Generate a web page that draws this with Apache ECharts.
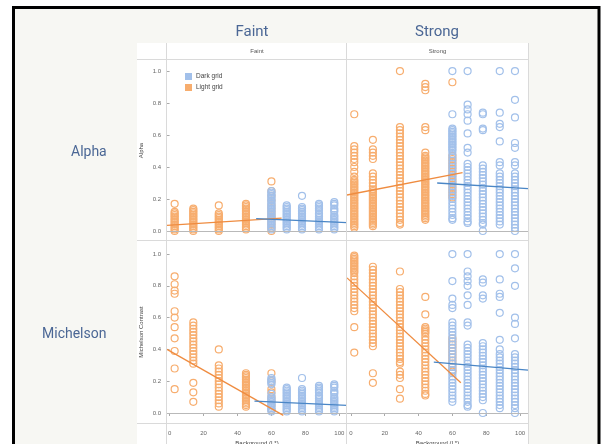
<!DOCTYPE html>
<html>
<head>
<meta charset="utf-8">
<script src="https://cdn.jsdelivr.net/npm/echarts@6/dist/echarts.min.js"></script>
<style>
  html, body { margin: 0; padding: 0; background: #fff; }
  #main { width: 602px; height: 444px; }
</style>
</head>
<body>
<div id="main"></div>
<script>
// background L* of each column
const lightX = [3, 14, 29, 45, 60];
const darkX = [60, 69, 78, 88, 97];
const lightXStrong = [2, 13, 29, 44, 60];

const colTitles = ['Faint', 'Strong'];
const rowTitles = ['Alpha', 'Michelson'];
const yTicks = [0, 0.2, 0.4, 0.6, 0.8, 1.0];
const xTicks = [0, 20, 40, 60, 80, 100];

// Alpha, faint
const alphaFaintLight = [
  [0.17, 0.12, 0.11, 0.10, 0.09, 0.08, 0.07, 0.06, 0.05, 0.04, 0.03, 0.02, 0.01, 0.0],
  [0.14, 0.13, 0.12, 0.11, 0.10, 0.09, 0.08, 0.07, 0.06, 0.05, 0.04, 0.03, 0.02, 0.01, 0.0],
  [0.16, 0.11, 0.10, 0.09, 0.08, 0.07, 0.06, 0.05, 0.04, 0.03, 0.02, 0.01, 0.0],
  [0.17, 0.16, 0.15, 0.14, 0.13, 0.12, 0.11, 0.10, 0.09, 0.08, 0.07, 0.06, 0.05, 0.04, 0.03, 0.02, 0.01],
  [0.31, 0.25, 0.22, 0.19, 0.16, 0.14, 0.12, 0.10, 0.08, 0.06, 0.04, 0.02, 0.0]
];
const alphaFaintDark = [
  [0.25, 0.24, 0.23, 0.22, 0.21, 0.20, 0.19, 0.18, 0.17, 0.16, 0.15, 0.14, 0.13, 0.12, 0.11, 0.10, 0.09, 0.08, 0.07, 0.06, 0.05, 0.04, 0.03, 0.02, 0.01],
  [0.16, 0.15, 0.14, 0.13, 0.12, 0.11, 0.10, 0.09, 0.08, 0.07, 0.06, 0.05, 0.04, 0.03, 0.02, 0.01],
  [0.22, 0.15, 0.14, 0.13, 0.12, 0.11, 0.10, 0.09, 0.08, 0.07, 0.06, 0.05, 0.04, 0.03, 0.02, 0.01],
  [0.17, 0.16, 0.15, 0.14, 0.13, 0.11, 0.10, 0.09, 0.08, 0.07, 0.06, 0.05, 0.04, 0.03, 0.02, 0.01],
  [0.18, 0.17, 0.16, 0.14, 0.13, 0.12, 0.10, 0.09, 0.08, 0.07, 0.06, 0.05, 0.04, 0.03, 0.02, 0.01]
];

// Alpha, strong
const alphaStrongLight = [
  [0.73, 0.53, 0.51, 0.49, 0.47, 0.45, 0.43, 0.40, 0.37, 0.34, 0.32, 0.31, 0.30, 0.29, 0.28, 0.27, 0.26, 0.25, 0.24, 0.23, 0.22, 0.21, 0.20, 0.19, 0.18, 0.17, 0.16, 0.15, 0.14, 0.13, 0.12, 0.11, 0.10, 0.09, 0.08, 0.07, 0.06, 0.05, 0.04, 0.03, 0.02],
  [0.57, 0.51, 0.49, 0.47, 0.45, 0.36, 0.34, 0.32, 0.30, 0.28, 0.26, 0.25, 0.24, 0.23, 0.22, 0.21, 0.20, 0.19, 0.18, 0.17, 0.16, 0.15, 0.14, 0.13, 0.12, 0.11, 0.10, 0.09, 0.08, 0.07, 0.06, 0.05, 0.04, 0.03],
  [1.0, 0.65, 0.63, 0.61, 0.59, 0.57, 0.55, 0.53, 0.51, 0.49, 0.47, 0.45, 0.43, 0.41, 0.39, 0.37, 0.35, 0.33, 0.31, 0.29, 0.27, 0.25, 0.23, 0.21, 0.19, 0.17, 0.15, 0.13, 0.11, 0.09, 0.07, 0.05, 0.04],
  [0.92, 0.90, 0.88, 0.65, 0.63, 0.49, 0.47, 0.46, 0.45, 0.44, 0.43, 0.42, 0.41, 0.40, 0.39, 0.38, 0.37, 0.36, 0.35, 0.34, 0.33, 0.32, 0.31, 0.30, 0.29, 0.28, 0.27, 0.26, 0.25, 0.24, 0.23, 0.22, 0.21, 0.20, 0.19, 0.18, 0.17, 0.16, 0.15, 0.14, 0.13, 0.12, 0.11, 0.10, 0.09, 0.08, 0.07],
  [0.93, 0.47, 0.45, 0.43, 0.41, 0.39, 0.37, 0.35, 0.33, 0.31, 0.29, 0.27, 0.25, 0.23, 0.21]
];
const alphaStrongDark = [
  [1.0, 0.73, 0.64, 0.63, 0.62, 0.61, 0.60, 0.59, 0.58, 0.57, 0.56, 0.55, 0.54, 0.53, 0.52, 0.51, 0.50, 0.48, 0.46, 0.44, 0.42, 0.40, 0.38, 0.36, 0.34, 0.32, 0.30, 0.28, 0.26, 0.24, 0.22, 0.20, 0.18, 0.16, 0.14, 0.12, 0.10, 0.08, 0.07],
  [1.0, 0.79, 0.76, 0.73, 0.69, 0.61, 0.52, 0.49, 0.42, 0.40, 0.38, 0.36, 0.34, 0.32, 0.30, 0.28, 0.26, 0.24, 0.22, 0.20, 0.18, 0.16, 0.14, 0.12, 0.10, 0.08, 0.06, 0.05],
  [0.74, 0.73, 0.64, 0.63, 0.41, 0.39, 0.37, 0.35, 0.33, 0.31, 0.29, 0.27, 0.25, 0.23, 0.21, 0.19, 0.17, 0.15, 0.13, 0.11, 0.09, 0.07, 0.05, 0.04, 0.0],
  [1.0, 0.74, 0.67, 0.65, 0.56, 0.43, 0.41, 0.36, 0.34, 0.32, 0.30, 0.28, 0.26, 0.24, 0.22, 0.20, 0.18, 0.16, 0.14, 0.12, 0.10, 0.08, 0.06, 0.04],
  [1.0, 0.82, 0.71, 0.55, 0.52, 0.43, 0.41, 0.36, 0.34, 0.32, 0.30, 0.28, 0.26, 0.24, 0.22, 0.20, 0.18, 0.16, 0.14, 0.12, 0.10, 0.08, 0.06, 0.04, 0.02, 0.0]
];

// Michelson contrast, faint
const michFaintLight = [
  [0.86, 0.81, 0.77, 0.75, 0.64, 0.60, 0.54, 0.47, 0.39, 0.28, 0.15],
  [0.57, 0.55, 0.53, 0.51, 0.49, 0.47, 0.45, 0.43, 0.41, 0.39, 0.37, 0.35, 0.33, 0.31, 0.19, 0.13, 0.07],
  [0.40, 0.30, 0.28, 0.26, 0.24, 0.22, 0.20, 0.18, 0.16, 0.14, 0.12, 0.10, 0.08, 0.06, 0.04],
  [0.25, 0.24, 0.23, 0.22, 0.21, 0.20, 0.19, 0.18, 0.17, 0.16, 0.15, 0.14, 0.13, 0.12, 0.11, 0.10, 0.09, 0.08, 0.07, 0.06, 0.05, 0.04],
  [0.25, 0.20, 0.15, 0.13, 0.10, 0.08, 0.05, 0.02]
];
const michFaintDark = [
  [0.22, 0.21, 0.20, 0.19, 0.18, 0.12, 0.10, 0.09, 0.08, 0.07, 0.06, 0.05, 0.04, 0.03, 0.02, 0.01],
  [0.16, 0.15, 0.14, 0.13, 0.12, 0.11, 0.10, 0.09, 0.08, 0.07, 0.06, 0.05, 0.04, 0.03, 0.02, 0.01],
  [0.22, 0.15, 0.14, 0.13, 0.12, 0.11, 0.10, 0.09, 0.08, 0.07, 0.06, 0.05, 0.04, 0.03, 0.02, 0.01],
  [0.17, 0.16, 0.15, 0.14, 0.13, 0.11, 0.10, 0.09, 0.08, 0.07, 0.06, 0.05, 0.04, 0.03, 0.02, 0.01],
  [0.18, 0.17, 0.16, 0.14, 0.13, 0.12, 0.10, 0.09, 0.08, 0.07, 0.06, 0.05, 0.04, 0.03, 0.02, 0.01]
];

// Michelson contrast, strong
const michStrongLight = [
  [0.99, 0.98, 0.97, 0.96, 0.95, 0.94, 0.93, 0.92, 0.91, 0.90, 0.89, 0.88, 0.86, 0.84, 0.82, 0.80, 0.78, 0.76, 0.74, 0.72, 0.70, 0.68, 0.66, 0.64, 0.54, 0.38],
  [0.92, 0.90, 0.88, 0.86, 0.84, 0.82, 0.80, 0.78, 0.76, 0.74, 0.72, 0.70, 0.68, 0.66, 0.64, 0.62, 0.60, 0.58, 0.56, 0.54, 0.52, 0.50, 0.48, 0.46, 0.44, 0.42, 0.25, 0.19],
  [0.89, 0.78, 0.76, 0.74, 0.72, 0.70, 0.68, 0.66, 0.64, 0.62, 0.60, 0.58, 0.56, 0.54, 0.52, 0.50, 0.48, 0.46, 0.44, 0.42, 0.40, 0.38, 0.36, 0.34, 0.32, 0.31, 0.26, 0.24, 0.22, 0.15, 0.09],
  [0.73, 0.62, 0.54, 0.53, 0.52, 0.51, 0.50, 0.48, 0.46, 0.44, 0.42, 0.40, 0.38, 0.36, 0.34, 0.32, 0.30, 0.28, 0.26, 0.24, 0.22, 0.20, 0.18, 0.16, 0.14, 0.12, 0.11],
  [0.47, 0.45, 0.43, 0.41, 0.39, 0.37, 0.35, 0.33, 0.31, 0.29, 0.27, 0.26]
];
const michStrongDark = [
  [1.0, 0.83, 0.72, 0.68, 0.66, 0.57, 0.55, 0.53, 0.51, 0.49, 0.47, 0.45, 0.43, 0.41, 0.39, 0.37, 0.35, 0.33, 0.31, 0.29, 0.27, 0.25, 0.23, 0.21, 0.19, 0.17, 0.15, 0.13, 0.11, 0.09, 0.07],
  [1.0, 0.89, 0.86, 0.83, 0.80, 0.74, 0.68, 0.57, 0.55, 0.43, 0.41, 0.39, 0.37, 0.35, 0.33, 0.31, 0.29, 0.27, 0.25, 0.23, 0.21, 0.19, 0.17, 0.15, 0.13, 0.11, 0.09, 0.07, 0.05, 0.04],
  [0.84, 0.82, 0.74, 0.72, 0.44, 0.42, 0.40, 0.38, 0.36, 0.34, 0.32, 0.30, 0.28, 0.26, 0.24, 0.22, 0.20, 0.18, 0.16, 0.14, 0.12, 0.10, 0.08, 0.0],
  [1.0, 0.84, 0.75, 0.73, 0.63, 0.46, 0.40, 0.37, 0.35, 0.33, 0.31, 0.29, 0.27, 0.25, 0.23, 0.21, 0.19, 0.17, 0.15, 0.13, 0.11, 0.09, 0.07, 0.05, 0.03],
  [1.0, 0.91, 0.80, 0.60, 0.56, 0.47, 0.37, 0.35, 0.33, 0.31, 0.29, 0.27, 0.25, 0.23, 0.21, 0.19, 0.17, 0.15, 0.13, 0.11, 0.09, 0.07, 0.05, 0.03, 0.0]
];

// fitted lines, [L*, value] end points
const alphaFaintLightFit = [[-1.5, 0.035], [66, 0.08]];
const alphaFaintDarkFit = [[51, 0.078], [104.5, 0.052]];
const alphaStrongLightFit = [[-2.3, 0.225], [66, 0.365]];
const alphaStrongDarkFit = [[51, 0.30], [104.7, 0.265]];
const michFaintLightFit = [[-1.5, 0.40], [67, -0.015]];
const michFaintDarkFit = [[50, 0.074], [104.5, 0.048]];
const michStrongLightFit = [[-2.3, 0.85], [65, 0.19]];
const michStrongDarkFit = [[49, 0.32], [104.7, 0.27]];

const ORANGE = '#f7ad6e';
const BLUE = '#a2c0ea';
const ORANGE_LINE = '#ef8c40';
const BLUE_LINE = '#4a86c6';
const GRIDLINE = '#dadada';
const FONT = 'Liberation Sans';

function toPoints(xs, cols) {
  const out = [];
  cols.forEach((col, i) => col.forEach((v) => out.push([xs[i], v])));
  return out;
}

// panel boxes in pixels
const panelLeft = [167, 347];
const panelWidth = [180, 181];
const panelTop = [60, 241];
const panelHeight = [181, 182];
const xRange = [[-1.5, 104.5], [-2.3, 104.7]];
const yRange = [[-0.0625, 1.069], [-0.063, 1.082]];

const panels = [
  {row: 0, col: 0, light: toPoints(lightX, alphaFaintLight), dark: toPoints(darkX, alphaFaintDark), lf: alphaFaintLightFit, df: alphaFaintDarkFit},
  {row: 0, col: 1, light: toPoints(lightXStrong, alphaStrongLight), dark: toPoints(darkX, alphaStrongDark), lf: alphaStrongLightFit, df: alphaStrongDarkFit},
  {row: 1, col: 0, light: toPoints(lightX, michFaintLight), dark: toPoints(darkX, michFaintDark), lf: michFaintLightFit, df: michFaintDarkFit},
  {row: 1, col: 1, light: toPoints(lightXStrong, michStrongLight), dark: toPoints(darkX, michStrongDark), lf: michStrongLightFit, df: michStrongDarkFit}
];

const grids = [];
const xAxes = [];
const yAxes = [];
const series = [];

panels.forEach((p, i) => {
  grids.push({
    left: panelLeft[p.col], top: panelTop[p.row],
    width: panelWidth[p.col], height: panelHeight[p.row],
    show: false, containLabel: false, outerBoundsMode: 'none'
  });
  const bottomRow = p.row === 1;
  xAxes.push({
    type: 'value', gridIndex: i,
    min: xRange[p.col][0], max: xRange[p.col][1],
    name: bottomRow ? 'Background (L*)' : '',
    nameLocation: 'middle', nameGap: 17,
    nameTextStyle: {fontSize: 6, color: '#444', fontFamily: FONT},
    axisLine: {show: false},
    axisTick: {show: bottomRow, length: 3, customValues: xTicks, lineStyle: {color: '#aaa'}},
    axisLabel: {show: bottomRow, customValues: xTicks, fontSize: 6, color: '#666', margin: 7, fontFamily: FONT},
    splitLine: {show: false}
  });
  const leftCol = p.col === 0;
  yAxes.push({
    type: 'value', gridIndex: i,
    min: yRange[p.row][0], max: yRange[p.row][1],
    name: leftCol ? (p.row === 0 ? 'Alpha' : 'Michelson Contrast') : '',
    nameLocation: 'middle', nameGap: 23, nameRotate: 90,
    nameTextStyle: {fontSize: 6, color: '#444', fontFamily: FONT},
    axisLine: {show: false},
    axisTick: {show: leftCol, length: 3, customValues: yTicks, lineStyle: {color: '#aaa'}},
    axisLabel: {show: leftCol, customValues: yTicks, fontSize: 6, color: '#666', margin: 6,
      fontFamily: FONT, formatter: (v) => v.toFixed(1)},
    splitLine: {show: false}
  });
  series.push({
    type: 'scatter', name: 'Light grid', xAxisIndex: i, yAxisIndex: i,
    data: p.light, symbol: 'circle', symbolSize: 7,
    itemStyle: {color: 'rgba(255,255,255,0)', borderColor: ORANGE, borderWidth: 1.2, opacity: 1},
    markLine: {
      silent: true, symbol: 'none', label: {show: false},
      lineStyle: {color: '#b9b9b9', type: 'solid', width: 1},
      data: [{yAxis: 0}]
    }
  });
  series.push({
    type: 'scatter', name: 'Dark grid', xAxisIndex: i, yAxisIndex: i,
    data: p.dark, symbol: 'circle', symbolSize: 7,
    itemStyle: {color: 'rgba(255,255,255,0)', borderColor: BLUE, borderWidth: 1.2, opacity: 1}
  });
  series.push({
    type: 'line', name: 'Light fit', xAxisIndex: i, yAxisIndex: i,
    data: p.lf, symbol: 'none', clip: false,
    lineStyle: {color: ORANGE_LINE, width: 1.3}, z: 5
  });
  series.push({
    type: 'line', name: 'Dark fit', xAxisIndex: i, yAxisIndex: i,
    data: p.df, symbol: 'none', clip: false,
    lineStyle: {color: BLUE_LINE, width: 1.3}, z: 5
  });
});

function hline(y, x1, x2) {
  return {type: 'line', z: 100, silent: true, shape: {x1: x1, y1: y, x2: x2, y2: y}, style: {stroke: GRIDLINE, lineWidth: 1}};
}
function vline(x, y1, y2) {
  return {type: 'line', z: 100, silent: true, shape: {x1: x, y1: y1, x2: x, y2: y2}, style: {stroke: GRIDLINE, lineWidth: 1}};
}
function label(text, x, y, size, color, align) {
  return {type: 'text', z: 100, silent: true, x: x, y: y,
    style: {text: text, fontSize: size, fill: color, fontFamily: size > 10 ? 'Roboto' : FONT,
      align: align || 'center', verticalAlign: 'middle'}};
}

const graphics = [
  {type: 'rect', z: -10, silent: true, shape: {x: 13.5, y: 7.5, width: 585.5, height: 460},
    style: {fill: '#f7f7f3', stroke: '#000', lineWidth: 3}},
  {type: 'rect', z: -9, silent: true, shape: {x: 137, y: 43, width: 391.5, height: 410}, style: {fill: '#fff'}},
  hline(59.5, 137, 528.5), hline(240.5, 137, 528.5), hline(423.5, 137, 528.5),
  vline(166.5, 43, 444), vline(346.5, 43, 444), vline(528.5, 43, 444),
  label('Faint', 257, 51.5, 6, '#555'),
  label('Strong', 437.5, 51.5, 6, '#555'),
  label(colTitles[0], 252, 32, 15, '#4b6795'),
  label(colTitles[1], 437, 32, 15, '#4b6795'),
  label(rowTitles[0], 71, 152, 14, '#4b6795', 'left'),
  label(rowTitles[1], 42, 334, 14, '#4b6795', 'left')
];

const chart = echarts.init(document.getElementById('main'));
chart.setOption({
  animation: false,
  backgroundColor: '#fff',
  graphic: graphics,
  legend: {
    orient: 'vertical', left: 180, top: 68,
    itemWidth: 7, itemHeight: 7, itemGap: 4, icon: 'rect',
    textStyle: {fontSize: 6.5, color: '#444', fontFamily: FONT, padding: [0, 0, 0, -1]},
    data: [
      {name: 'Dark grid', itemStyle: {color: BLUE, borderWidth: 0}},
      {name: 'Light grid', itemStyle: {color: ORANGE, borderWidth: 0}}
    ]
  },
  grid: grids,
  xAxis: xAxes,
  yAxis: yAxes,
  series: series
});
</script>
</body>
</html>
